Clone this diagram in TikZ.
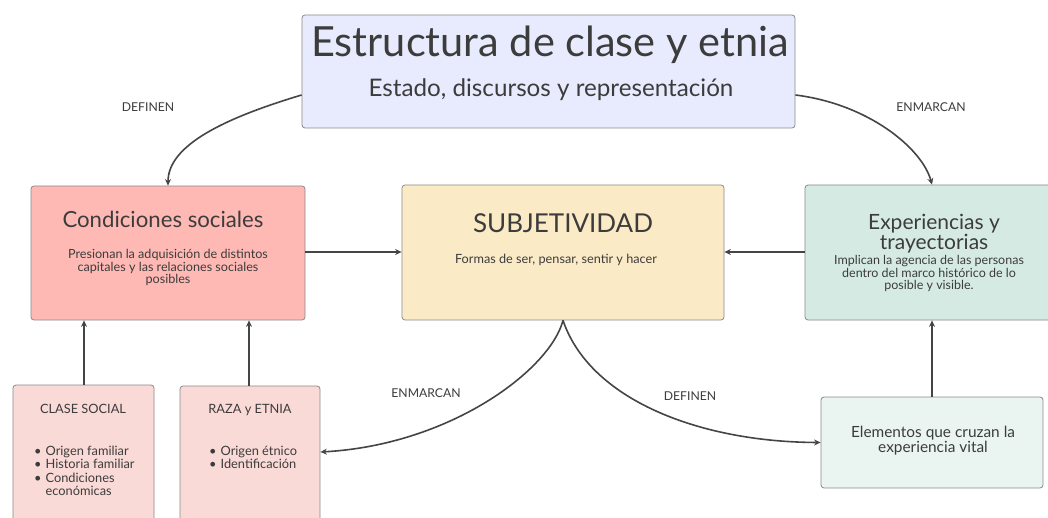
\documentclass[tikz,border=0pt]{standalone}
\usepackage{fontspec}
\setmainfont{Lato}
\usetikzlibrary{arrows.meta}
\definecolor{txt}{HTML}{3C3C3C}
\definecolor{edge}{HTML}{8A8A8A}
\definecolor{arrc}{HTML}{454545}
\definecolor{ctop}{HTML}{E7EBFD}
\definecolor{ccond}{HTML}{FFB9B4}
\definecolor{csubj}{HTML}{FBEAC6}
\definecolor{cexp}{HTML}{D5EAE3}
\definecolor{cpink}{HTML}{FADAD7}
\definecolor{celem}{HTML}{EAF4F1}
\tikzset{
  box/.style={draw=edge, line width=0.8pt, rounded corners=3pt, inner sep=0pt},
  txtn/.style={text=txt, inner sep=0pt},
  arr/.style={draw=arrc, line width=1.6pt, -{Stealth[length=6.5pt,width=6pt]}},
  lbl/.style={text=txt, inner sep=0pt, anchor=base, font=\fontsize{12.2}{14}\selectfont}
}
\begin{document}
\begin{tikzpicture}[x=1pt,y=-1pt]
\useasboundingbox (0,0) rectangle (1048,518);
\fill[white] (0,0) rectangle (1048,518);

% boxes
\node[box, fill=ctop, minimum width=493pt, minimum height=113pt] (top) at (548.5,71.5) {};
\node[box, fill=ccond, minimum width=274pt, minimum height=134pt] (cond) at (168,253) {};
\node[box, fill=csubj, minimum width=322pt, minimum height=135pt] (subj) at (563,252.5) {};
\node[box, fill=cexp, minimum width=254pt, minimum height=135pt] (exp) at (932,252.5) {};
\node[box, fill=cpink, minimum width=141pt, minimum height=145pt] (clase) at (83.5,457.5) {};
\node[box, fill=cpink, minimum width=140pt, minimum height=144pt] (raza) at (250,458) {};
\node[box, fill=celem, minimum width=222pt, minimum height=91pt] (elem) at (932,442.5) {};

% texts
\node[txtn, anchor=base, font=\fontsize{41.5}{48}\selectfont] (ttitle) at (550,57) {Estructura de clase y etnia};
\node[txtn, anchor=base, font=\fontsize{24.2}{28}\selectfont] (tsub) at (551,97) {Estado, discursos y representación};

\node[txtn, anchor=base, font=\fontsize{22.2}{25}\selectfont] (ctitle) at (163,228) {Condiciones sociales};
\node[txtn, anchor=north, align=center, font=\fontsize{12.6}{12.6}\selectfont] (cbody) at (168,249) {Presionan la adquisición de distintos\\capitales y las relaciones sociales\\posibles};

\node[txtn, anchor=base, font=\fontsize{26}{30}\selectfont] (stitle) at (563,233) {SUBJETIVIDAD};
\node[txtn, anchor=base, font=\fontsize{12.7}{14}\selectfont] (sbody) at (556,264) {Formas de ser, pensar, sentir y hacer};

\node[txtn, anchor=north, align=center, font=\fontsize{21}{16}\selectfont] (etitle) at (934,214) {Experiencias y\\trayectorias};
\node[txtn, anchor=north, align=center, font=\fontsize{12.5}{12.6}\selectfont] (ebody) at (929,255) {Implican la agencia de las personas\\dentro del marco histórico de lo\\posible y visible.};

\node[txtn, anchor=base, font=\fontsize{12.8}{15}\selectfont] (cltitle) at (83,413) {CLASE SOCIAL};
\node[txtn, anchor=north west, font=\fontsize{12.8}{12.7}\selectfont] (cllist) at (34,446) {%
\begin{tabular}{@{}l@{\hspace{4pt}}l@{}}
\textbullet & Origen familiar\\
\textbullet & Historia familiar\\
\textbullet & Condiciones\\
 & económicas
\end{tabular}};

\node[txtn, anchor=base, font=\fontsize{12.8}{15}\selectfont] (rztitle) at (250,413) {RAZA y ETNIA};
\node[txtn, anchor=north west, font=\fontsize{12.8}{12.7}\selectfont] (rzlist) at (209,446) {%
\begin{tabular}{@{}l@{\hspace{4pt}}l@{}}
\textbullet & Origen étnico\\
\textbullet & Identificación
\end{tabular}};

\node[txtn, anchor=north, align=center, font=\fontsize{15.4}{15.5}\selectfont] (ebody2) at (933,425.5) {Elementos que cruzan la\\experiencia vital};

% connectors
\draw[arr] ([yshift=-23.5pt]top.west) .. controls (225,118) and (168,145) .. (cond.north);
\node[lbl] (l1) at (148,112) {DEFINEN};
\draw[arr] ([yshift=-23.5pt]top.east) .. controls (868,104) and (922,148) .. (exp.north);
\node[lbl] (l2) at (931,112) {ENMARCAN};

\draw[arr] (cond.east |- 0,252) -- (subj.west |- 0,252);
\draw[arr] (exp.west |- 0,252) -- (subj.east |- 0,252);
\draw[arr] (84,0 |- clase.north) -- (84,0 |- cond.south);
\draw[arr] (249,0 |- raza.north) -- (249,0 |- cond.south);
\draw[arr] (elem.north) -- (elem.north |- exp.south);

\draw[arr] (subj.south) .. controls (550,370) and (450,445) .. ([yshift=6pt]raza.east);
\node[lbl] (l3) at (426,397) {ENMARCAN};
\draw[arr] (subj.south) .. controls (590,400) and (700,442) .. (elem.west);
\node[lbl] (l4) at (690,400) {DEFINEN};
\end{tikzpicture}
\end{document}
